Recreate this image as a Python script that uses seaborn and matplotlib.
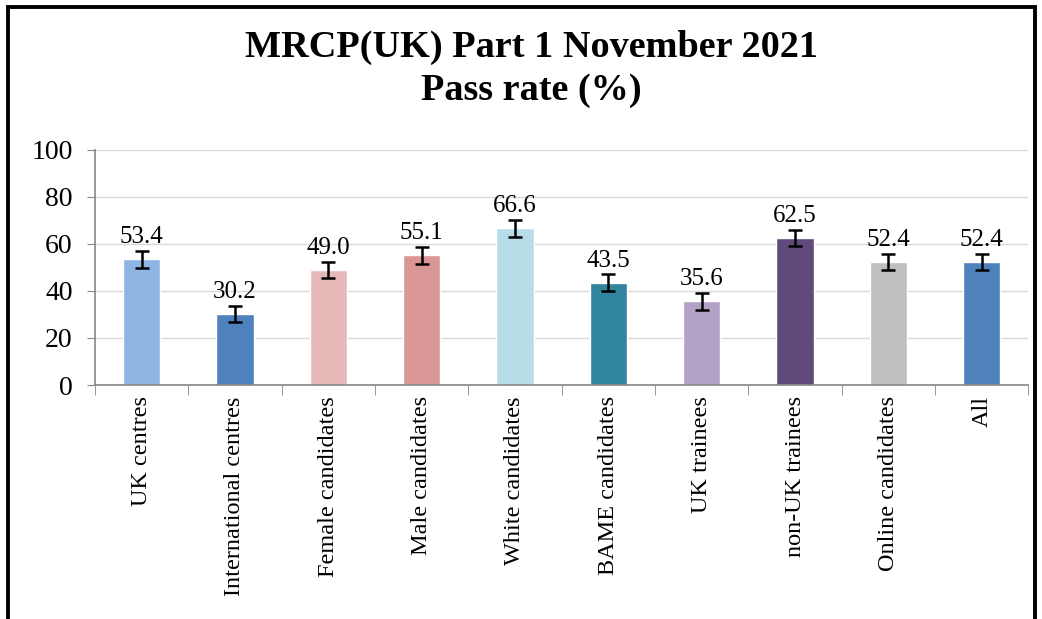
import numpy as np
import pandas as pd
import matplotlib.pyplot as plt
import seaborn as sns
from matplotlib.patches import Rectangle

# Data
categories = ['UK centres', 'International centres', 'Female candidates',
              'Male candidates', 'White candidates', 'BAME candidates',
              'UK trainees', 'non-UK trainees', 'Online candidates', 'All']
pass_rate = [53.4, 30.2, 49.0, 55.1, 66.6, 43.5, 35.6, 62.5, 52.4, 52.4]
error = [3.5, 3.5, 3.5, 3.5, 3.5, 3.5, 3.5, 3.5, 3.5, 3.5]
bar_colors = ['#8EB4E3', '#4F81BD', '#E6B9B8', '#D99694', '#B7DEE8',
              '#31859C', '#B3A2C7', '#604A7B', '#BFBFBF', '#4F81BD']

df = pd.DataFrame({'Group': categories, 'Pass': pass_rate, 'Err': error})

sns.set_style("white")
plt.rcParams['font.family'] = ['Liberation Serif', 'DejaVu Serif']
plt.rcParams['text.color'] = 'black'

fig = plt.figure(figsize=(10.42, 6.19), dpi=100)
ax = fig.add_axes([0.091, 0.378, 0.896, 0.380])

sns.barplot(data=df, x='Group', y='Pass', hue='Group', palette=bar_colors,
            legend=False, width=0.4, saturation=1, ax=ax, errorbar=None)
ax.errorbar(df['Group'], df['Pass'], yerr=df['Err'], fmt='none',
            ecolor='black', elinewidth=1.8, capsize=5, capthick=1.8, zorder=3)

for i, (v, e) in enumerate(zip(pass_rate, error)):
    ax.text(i, v + e + 1.2, f"{v:.1f}", ha='center', va='bottom', fontsize=18,
            color='black')

ax.set_ylim(0, 100)
ax.set_xlim(-0.5, len(categories) - 0.5)
ax.set_yticks(range(0, 101, 20))
ax.yaxis.grid(True, color='#D9D9D9', linewidth=1)
ax.set_axisbelow(True)
ax.tick_params(axis='y', labelsize=20, length=6, color='#868686', left=True,
               pad=10, labelcolor='black')
ax.tick_params(axis='x', labelsize=17.5, rotation=90, length=0, pad=8,
               labelcolor='black')
ax.set_xlabel('')
ax.set_ylabel('')
for s in ['top', 'right']:
    ax.spines[s].set_visible(False)
for s in ['left', 'bottom']:
    ax.spines[s].set_color('#868686')
    ax.spines[s].set_linewidth(1.2)

# tick marks between categories
ax.set_xticks(np.arange(-0.5, len(categories), 1), minor=True)
ax.tick_params(axis='x', which='minor', length=7, color='#868686', bottom=True)

fig.text(0.51, 0.889, "MRCP(UK) Part 1 November 2021\nPass rate (%)",
         ha='center', va='center', fontsize=27.5, fontweight='bold',
         linespacing=1.3, color='black')

fig.patches.append(Rectangle((0.008, -0.05), 0.985, 1.039, transform=fig.transFigure,
                             fill=False, edgecolor='black', linewidth=2.8))

fig.savefig('out.png', dpi=100)
